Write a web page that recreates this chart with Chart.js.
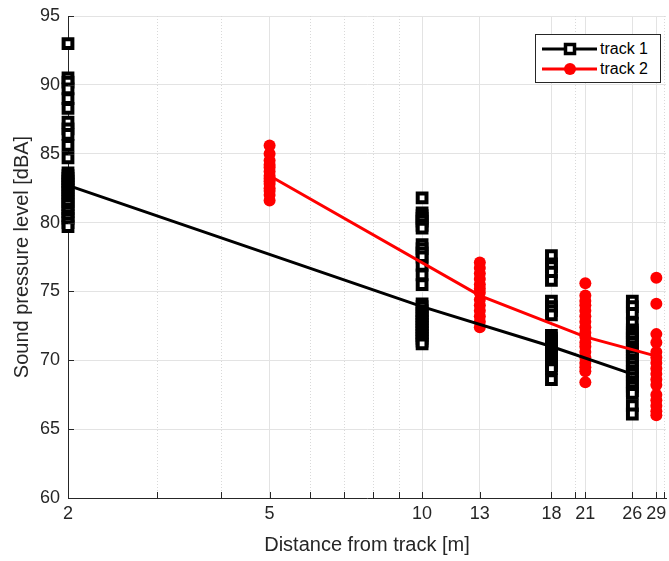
<!DOCTYPE html>
<html><head><meta charset="utf-8">
<script src="https://cdn.jsdelivr.net/npm/chart.js@4/dist/chart.umd.min.js"></script>
<style>
html,body{margin:0;padding:0;background:#fff;}
#wrap{position:relative;width:669px;height:561px;}
#legend{position:absolute;left:535px;top:34px;width:126px;height:49px;border:1px solid #262626;background:#fff;box-sizing:border-box;font:16px "Liberation Sans",Arial,sans-serif;color:#000;}
#legend .row{position:absolute;left:0;height:20px;width:124px;}
#legend svg{position:absolute;left:5px;top:0;}
#legend .lbl{position:absolute;left:64px;top:1px;line-height:18px;}
</style>
</head><body>
<div id="wrap">
<canvas id="c" width="669" height="561"></canvas>
<div id="legend">
  <div class="row" style="top:4px"><svg width="58" height="20"><line x1="1" y1="10" x2="56" y2="10" stroke="#000" stroke-width="3"/><rect x="24.5" y="5.5" width="9" height="9" fill="#fff" stroke="#000" stroke-width="3.5"/></svg><span class="lbl">track 1</span></div>
  <div class="row" style="top:24px"><svg width="58" height="20"><line x1="1" y1="10" x2="56" y2="10" stroke="#ff0000" stroke-width="3"/><circle cx="29" cy="10" r="6" fill="#ff0000"/></svg><span class="lbl">track 2</span></div>
</div>
</div>
<script>
// ---- data ----
const track1Distances = [2, 10, 18, 26];
const track2Distances = [5, 13, 21, 29];

const track1At2  = [93.0, 90.5, 90.2, 89.7, 89.0, 88.3, 87.3, 86.8, 86.4, 85.6, 84.7, 83.6, 83.4, 83.2, 83.0, 82.8, 82.6, 82.4, 82.2, 81.9, 81.7, 81.5, 81.3, 81.0, 80.8, 80.5, 80.3, 80.0, 79.7];
const track1At10 = [81.8, 80.7, 80.5, 80.3, 80.1, 79.8, 79.6, 78.4, 78.1, 77.8, 77.5, 76.9, 76.2, 75.5, 74.1, 73.9, 73.6, 73.4, 73.2, 73.0, 72.8, 72.6, 72.4, 72.2, 72.0, 71.8, 71.6, 71.4, 71.2];
const track1At18 = [77.6, 77.0, 76.8, 76.4, 75.8, 74.3, 73.9, 73.6, 73.3, 71.8, 71.6, 71.4, 71.2, 71.0, 70.8, 70.6, 70.4, 70.2, 70.0, 69.8, 69.6, 69.4, 68.6];
const track1At26 = [74.3, 73.9, 73.4, 72.7, 72.2, 72.0, 71.8, 71.6, 71.3, 71.0, 70.8, 70.6, 70.3, 70.0, 69.8, 69.5, 69.2, 69.0, 68.7, 68.4, 68.1, 67.8, 67.6, 66.7, 66.1];

const track2At5  = [85.6, 85.0, 84.5, 84.2, 84.0, 83.7, 83.4, 83.2, 83.0, 82.8, 82.5, 82.3, 82.0, 81.6];
const track2At13 = [77.1, 76.7, 76.3, 75.9, 75.5, 75.2, 74.9, 74.4, 74.0, 73.6, 73.2, 72.8, 72.4];
const track2At21 = [75.6, 74.7, 74.3, 74.0, 73.6, 73.2, 72.8, 72.4, 72.0, 71.7, 71.3, 71.0, 70.6, 70.2, 69.8, 69.5, 69.2, 68.4];
const track2At29 = [76.0, 74.1, 71.9, 71.3, 70.6, 70.2, 69.8, 69.4, 69.0, 68.6, 68.2, 67.5, 67.1, 66.7, 66.3, 66.0];

const track1Line = [82.7, 73.9, 71.0, 69.0];
const track2Line = [83.4, 74.7, 71.7, 70.3];

const xTickValues = [2, 5, 10, 13, 18, 21, 26, 29];
const xMinorGrid = [3, 4, 6, 7, 8, 9, 20, 30];
const yTickValues = [60, 65, 70, 75, 80, 85, 90, 95];

// ---- build points ----
function pts(xs, groups) {
  const out = [];
  xs.forEach((x, i) => groups[i].forEach(v => out.push({x: x, y: v})));
  return out;
}
const track1Points = pts(track1Distances, [track1At2, track1At10, track1At18, track1At26]);
const track2Points = pts(track2Distances, [track2At5, track2At13, track2At21, track2At29]);
const line1 = track1Distances.map((x, i) => ({x: x, y: track1Line[i]}));
const line2 = track2Distances.map((x, i) => ({x: x, y: track2Line[i]}));

const FONT = '"Liberation Sans", Arial, Helvetica, sans-serif';
const TXT = '#262626';

const extrasPlugin = {
  id: 'extras',
  beforeDatasetsDraw(chart) {
    const {ctx, chartArea: a, scales: {x, y}} = chart;
    ctx.save();
    ctx.strokeStyle = '#d9d9d9';
    ctx.lineWidth = 1;
    ctx.setLineDash([1, 2]);
    xMinorGrid.forEach(v => {
      const px = Math.round(x.getPixelForValue(v)) + 0.5;
      ctx.beginPath(); ctx.moveTo(px, a.top); ctx.lineTo(px, a.bottom); ctx.stroke();
    });
    ctx.restore();
  },
  afterDraw(chart) {
    const {ctx, chartArea: a, scales: {x, y}} = chart;
    ctx.save();
    ctx.strokeStyle = TXT;
    ctx.lineWidth = 1;
    const allX = xTickValues.concat(xMinorGrid);
    allX.forEach(v => {
      const px = Math.round(x.getPixelForValue(v)) + 0.5;
      if (px > a.right) return;
      ctx.beginPath(); ctx.moveTo(px, a.bottom); ctx.lineTo(px, a.bottom - 6); ctx.stroke();
    });
    yTickValues.forEach(v => {
      const py = Math.round(y.getPixelForValue(v)) + 0.5;
      ctx.beginPath(); ctx.moveTo(a.left, py); ctx.lineTo(a.left + 6, py); ctx.stroke();
    });
    ctx.restore();
  }
};

new Chart(document.getElementById('c'), {
  type: 'scatter',
  data: {
    datasets: [
      {label: 'track 1 line', data: line1, showLine: true, borderColor: '#000', borderWidth: 3, pointRadius: 0, order: 0, tension: 0, clip: false},
      {label: 'track 2 line', data: line2, showLine: true, borderColor: '#ff0000', borderWidth: 3, pointRadius: 0, order: 0, tension: 0, clip: false},
      {label: 'track 2', data: track2Points, pointStyle: 'circle', pointRadius: 6, backgroundColor: '#ff0000', borderColor: '#ff0000', borderWidth: 0, order: 1, clip: false},
      {label: 'track 1', data: track1Points, pointStyle: 'rect', pointRadius: 6.2, backgroundColor: '#ffffff', borderColor: '#000', borderWidth: 4, order: 2, clip: false}
    ]
  },
  options: {
    responsive: false,
    animation: false,
    events: [],
    layout: {autoPadding: false, padding: {top: 16, right: 3, left: 0, bottom: 0}},
    plugins: {legend: {display: false}, tooltip: {enabled: false}},
    scales: {
      x: {
        type: 'logarithmic',
        min: 2, max: 30.3,
        afterBuildTicks: s => { s.ticks = xTickValues.map(v => ({value: v, major: true})); },
        afterFit: s => { s.height = 63; s.paddingLeft = 0; s.paddingRight = 0; },
        ticks: {font: {family: FONT, size: 18}, color: TXT, maxRotation: 0, autoSkip: false, padding: 5, callback: v => String(v)},
        grid: {color: '#e3e3e3', drawTicks: false},
        border: {color: TXT, width: 1},
        title: {display: true, text: 'Distance from track [m]', font: {family: FONT, size: 20}, color: TXT, padding: {top: 0, bottom: 4}}
      },
      y: {
        min: 60, max: 95,
        afterBuildTicks: s => { s.ticks = yTickValues.map(v => ({value: v})); },
        afterFit: s => { s.width = 68; s.paddingTop = 0; s.paddingBottom = 0; },
        ticks: {font: {family: FONT, size: 18}, color: TXT, padding: 8},
        grid: {color: '#e3e3e3', drawTicks: false},
        border: {color: TXT, width: 1},
        title: {display: true, text: 'Sound pressure level [dBA]', font: {family: FONT, size: 20}, color: TXT, padding: {top: 10, bottom: 0}}
      }
    }
  },
  plugins: [extrasPlugin]
});
</script>
</body></html>
